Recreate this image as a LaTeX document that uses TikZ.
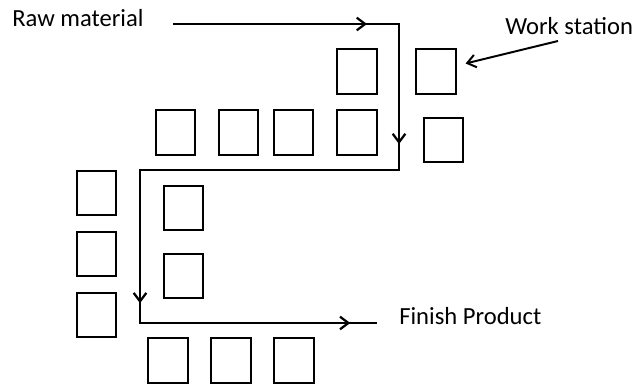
\documentclass[tikz,border=0pt]{standalone}
\usepackage{fontspec}
\setmainfont{Carlito}
\usetikzlibrary{arrows.meta, positioning, decorations.markings}
\tikzset{
  stationbox/.style={rectangle, draw=black, line width=1.4pt, minimum width=0.98cm, minimum height=1.12cm, inner sep=0pt},
  labeltext/.style={anchor=west, inner sep=0pt, font=\fontsize{17.5}{20}\selectfont},
  flowline/.style={line width=1.6pt, line join=miter, postaction={decorate},
    decoration={markings,
      mark=at position 4.85cm with {\arrow{Straight Barb[length=6pt,width=9pt]}},
      mark=at position 8.65cm with {\arrow{Straight Barb[length=6pt,width=9pt]}},
      mark=at position 19.1cm with {\arrow{Straight Barb[length=6pt,width=9pt]}},
      mark=at position 24.85cm with {\arrow{Straight Barb[length=6pt,width=9pt]}}}},
  pointer/.style={-{Straight Barb[length=6pt,width=9pt]}, line width=1.4pt}
}
\begin{document}
\begin{tikzpicture}[x=0.025cm, y=-0.025cm]
  \useasboundingbox (0,0) rectangle (639,385);
  % labels
  \node[labeltext] (raw) at (12,18) {Raw material};
  \node[labeltext] (ws) at (505,26) {Work station};
  \node[labeltext] (fin) at (399,316) {Finish Product};
  % work stations
  \foreach \name/\x/\y in {s1/357/71.5, s2/436/71.5,
      s3/175.5/132.5, s4/238.5/132.5, s5/293.5/132.5, s6/357/132.5, s7/443.5/140,
      s8/96.5/193, s9/96.5/254, s10/96.5/315,
      s11/183.5/208, s12/183.5/276,
      s13/168/360.5, s14/231/360.5, s15/294/360.5} {
    \node[stationbox] (\name) at (\x,\y) {};
  }
  % material flow
  \coordinate (in) at (173,24);
  \coordinate (c1) at (399,24);
  \coordinate (c2) at (399,170);
  \coordinate (c3) at (140,170);
  \coordinate (c4) at (140,323);
  \coordinate (out) at (377,323);
  \draw[flowline] (in) -- (c1) -- (c2) -- (c3) -- (c4) -- (out);
  \draw[pointer] ([shift={(53,15)}]ws.west) -- ([shift={(9,-8)}]s2.east);
\end{tikzpicture}
\end{document}
